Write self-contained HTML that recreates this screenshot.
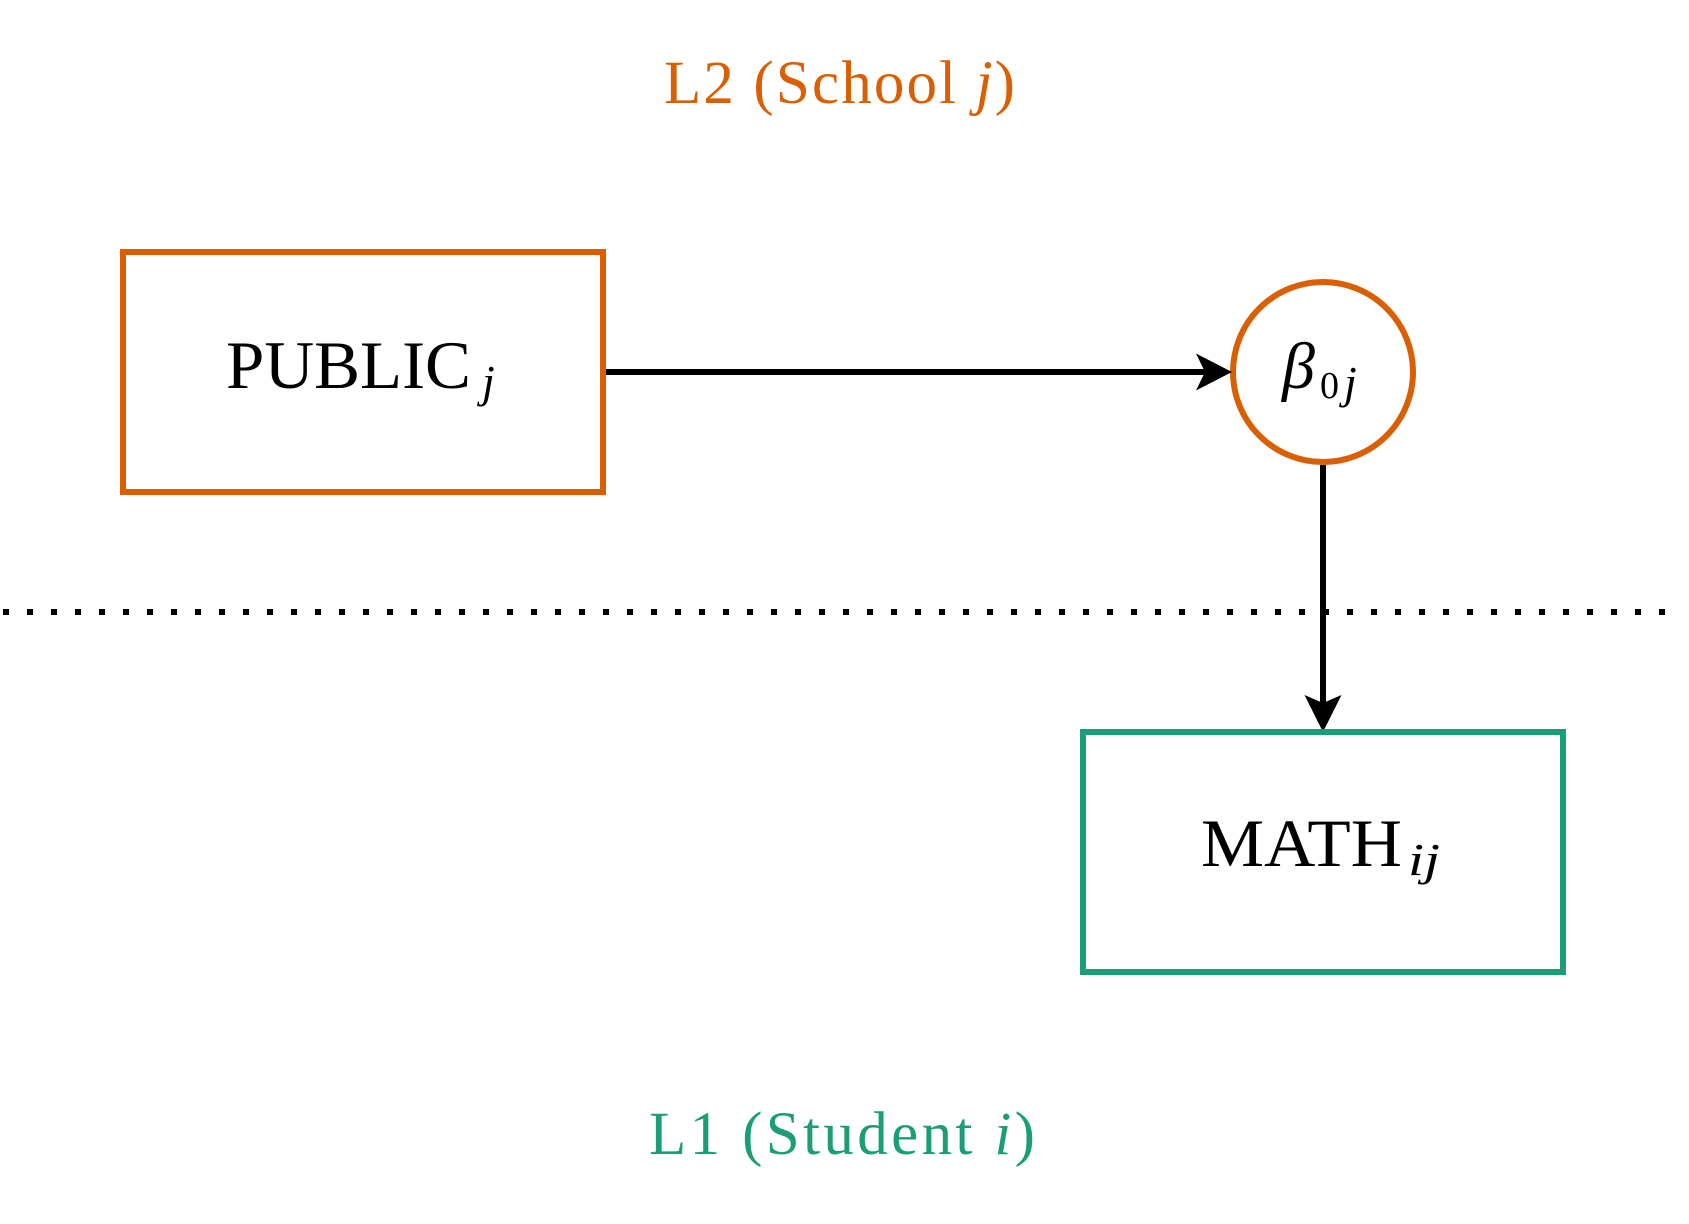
<!DOCTYPE html>
<html>
<head>
<meta charset="utf-8">
<style>
  html, body { margin: 0; padding: 0; background: #ffffff; }
  body { width: 1689px; height: 1224px; overflow: hidden; }
  svg { display: block; }
  text { font-family: "Liberation Serif", "DejaVu Serif", serif; }
</style>
</head>
<body>
<svg width="1689" height="1224" viewBox="0 0 1689 1224" xmlns="http://www.w3.org/2000/svg">
  <rect x="0" y="0" width="1689" height="1224" fill="#ffffff"/>

  <!-- Title L2 -->
  <text x="664" y="103" font-size="61" fill="#D95F02" textLength="351" lengthAdjust="spacing">L2 (School <tspan font-style="italic">j</tspan>)</text>

  <!-- PUBLIC box -->
  <rect x="123" y="252" width="480" height="240" fill="none" stroke="#D95F02" stroke-width="6"/>
  <text x="226" y="388" font-size="68" fill="#000" textLength="245" lengthAdjust="spacingAndGlyphs">PUBLIC</text>
  <text x="482" y="397" font-size="46" font-style="italic" fill="#000">j</text>

  <!-- beta circle -->
  <circle cx="1323" cy="372" r="90" fill="none" stroke="#D95F02" stroke-width="6"/>
  <text x="1282" y="388" font-size="66" font-style="italic" fill="#000">β</text>
  <text x="1320" y="398" font-size="38" fill="#000">0</text>
  <text x="1344" y="398" font-size="46" font-style="italic" fill="#000">j</text>

  <!-- horizontal arrow -->
  <line x1="606" y1="372" x2="1208" y2="372" stroke="#000" stroke-width="6"/>
  <path d="M1232,372 L1196,353.5 L1205,372 L1196,390.5 Z" fill="#000"/>

  <!-- vertical arrow -->
  <line x1="1323" y1="465" x2="1323" y2="705" stroke="#000" stroke-width="6"/>
  <path d="M1323,732 L1304.5,695 L1323,703 L1341.5,695 Z" fill="#000"/>

  <!-- dotted divider -->
  <line x1="3" y1="612" x2="1666" y2="612" stroke="#000" stroke-width="6" stroke-dasharray="6 18"/>

  <!-- MATH box -->
  <rect x="1083" y="732" width="480" height="240" fill="none" stroke="#1B9E77" stroke-width="6"/>
  <text x="1201" y="866" font-size="68" fill="#000" textLength="201" lengthAdjust="spacingAndGlyphs">MATH</text>
  <text x="1408" y="875" font-size="46" font-style="italic" fill="#000" textLength="32" lengthAdjust="spacingAndGlyphs">ij</text>

  <!-- Title L1 -->
  <text x="649" y="1154" font-size="61" fill="#1B9E77" textLength="386" lengthAdjust="spacing">L1 (Student <tspan font-style="italic">i</tspan>)</text>
</svg>
</body>
</html>
